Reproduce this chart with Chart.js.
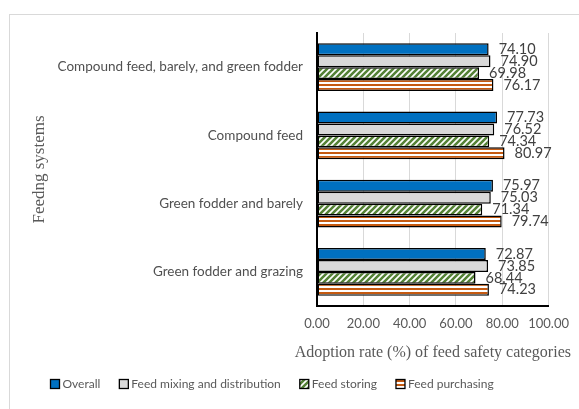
<!DOCTYPE html>
<html>
<head>
<meta charset="utf-8">
<script src="https://cdn.jsdelivr.net/npm/chart.js@4/dist/chart.umd.min.js"></script>
<style>
  html, body { margin: 0; padding: 0; background: #ffffff; }
  #wrap { width: 579px; height: 409px; position: relative; }
</style>
</head>
<body>
<div id="wrap"><canvas id="chart" width="579" height="409"></canvas></div>
<script>
// Feeding systems and adoption rates per feed safety category
const categories = [
  'Compound feed, barely, and green fodder',
  'Compound feed',
  'Green fodder and barely',
  'Green fodder and grazing'
];
const overall    = [74.10, 77.73, 75.97, 72.87];
const mixing     = [74.90, 76.52, 75.03, 73.85];
const storing    = [69.98, 74.34, 71.34, 68.44];
const purchasing = [76.17, 80.97, 79.74, 74.23];
const seriesNames = ['Overall', 'Feed mixing and distribution', 'Feed storing', 'Feed purchasing'];
const xTicks = [0, 20, 40, 60, 80, 100];
const xTitle = 'Adoption rate (%) of feed safety categories';
const yTitle = 'Feedng systems';

const SANS = 'Lato, "Open Sans", sans-serif';
const SERIF = '"Liberation Serif", serif';

// Fill patterns
function stripePattern() {
  const c = document.createElement('canvas');
  c.width = 6; c.height = 6;
  const g = c.getContext('2d');
  g.fillStyle = '#ffffff'; g.fillRect(0, 0, 6, 6);
  g.strokeStyle = '#548235'; g.lineWidth = 2.6;
  g.beginPath();
  g.moveTo(-1, 7); g.lineTo(7, -1);
  g.moveTo(-4, 4); g.lineTo(4, -4);
  g.moveTo(2, 10); g.lineTo(10, 2);
  g.stroke();
  return g.createPattern(c, 'repeat');
}
function hLinePattern() {
  const c = document.createElement('canvas');
  c.width = 4; c.height = 4;
  const g = c.getContext('2d');
  g.fillStyle = '#ffffff'; g.fillRect(0, 0, 4, 4);
  g.fillStyle = '#c55a11'; g.fillRect(0, 0, 4, 2);
  return g.createPattern(c, 'repeat');
}

const fills = ['#0070c0', '#d9d9d9', stripePattern(), hLinePattern()];

// Value labels at the end of each bar
const valueLabels = {
  id: 'valueLabels',
  afterDatasetsDraw(chart) {
    const ctx = chart.ctx;
    ctx.save();
    ctx.font = '14.5px ' + SANS;
    ctx.fillStyle = '#404040';
    ctx.textAlign = 'left';
    ctx.textBaseline = 'middle';
    chart.data.datasets.forEach((ds, i) => {
      chart.getDatasetMeta(i).data.forEach((bar, j) => {
        ctx.fillText(ds.data[j].toFixed(2), bar.x + 10, bar.y);
      });
    });
    ctx.restore();
  }
};

// Outer frame, horizontal axis title and bottom legend
const frameAndLegend = {
  id: 'frameAndLegend',
  beforeDraw(chart) {
    const ctx = chart.ctx;
    ctx.save();
    ctx.strokeStyle = '#d9d9d9';
    ctx.lineWidth = 1;
    ctx.strokeRect(9.5, 14.5, 600, 420);
    ctx.restore();
  },
  afterDraw(chart) {
    const ctx = chart.ctx;
    const area = chart.chartArea;
    ctx.save();
    // axis title centred under the plot area
    ctx.font = '16px ' + SERIF;
    ctx.fillStyle = '#595959';
    ctx.textAlign = 'center';
    ctx.textBaseline = 'middle';
    ctx.fillText(xTitle, (area.left + area.right) / 2, 353);

    // legend
    ctx.font = '12px ' + SANS;
    ctx.textAlign = 'left';
    const box = 9, gapBox = 3, gapItem = 19;
    const widths = seriesNames.map(n => box + gapBox + ctx.measureText(n).width);
    const total = widths.reduce((a, b) => a + b, 0) + gapItem * (seriesNames.length - 1);
    let x = Math.round(272 - total / 2) + 0.5;
    const y = 384;
    seriesNames.forEach((n, i) => {
      ctx.fillStyle = fills[i];
      ctx.fillRect(x, y - box / 2, box, box);
      ctx.strokeStyle = '#000000';
      ctx.lineWidth = 1.3;
      ctx.strokeRect(x, y - box / 2, box, box);
      ctx.fillStyle = '#595959';
      ctx.fillText(n, x + box + gapBox, y + 0.5);
      x += widths[i] + gapItem;
    });
    ctx.restore();
  }
};

const datasets = [overall, mixing, storing, purchasing].map((arr, i) => ({
  label: seriesNames[i],
  data: arr,
  backgroundColor: fills[i],
  borderColor: '#000000',
  borderWidth: 1.5,
  borderSkipped: false,
  categoryPercentage: 0.7,
  barPercentage: 1.0
}));

new Chart(document.getElementById('chart'), {
  type: 'bar',
  data: { labels: categories, datasets },
  options: {
    indexAxis: 'y',
    responsive: false,
    animation: false,
    layout: { padding: { top: 33, right: 27, left: 0, bottom: 0 } },
    plugins: { legend: { display: false }, tooltip: { enabled: false } },
    scales: {
      x: {
        min: 0, max: 100,
        afterBuildTicks(scale) { scale.ticks = xTicks.map(v => ({ value: v })); },
        afterFit(scale) { scale.height = 409 - 306; },
        grid: { color: '#d9d9d9', lineWidth: 1, drawTicks: false },
        border: { display: true, color: '#000000', width: 2 },
        ticks: {
          padding: 10,
          color: '#595959',
          font: { family: SANS, size: 13 },
          callback: v => Number(v).toFixed(2)
        },
        title: { display: false }
      },
      y: {
        afterFit(scale) { scale.width = 317; },
        grid: { display: false, drawTicks: false },
        border: { display: true, color: '#000000', width: 2 },
        ticks: {
          padding: 14,
          color: '#505050',
          font: { family: SANS, size: 13.5 }
        },
        title: {
          display: true,
          text: yTitle,
          color: '#595959',
          font: { family: SERIF, size: 17 },
          padding: { top: 29, bottom: 0 }
        }
      }
    }
  },
  plugins: [frameAndLegend, valueLabels]
});
</script>
</body>
</html>
